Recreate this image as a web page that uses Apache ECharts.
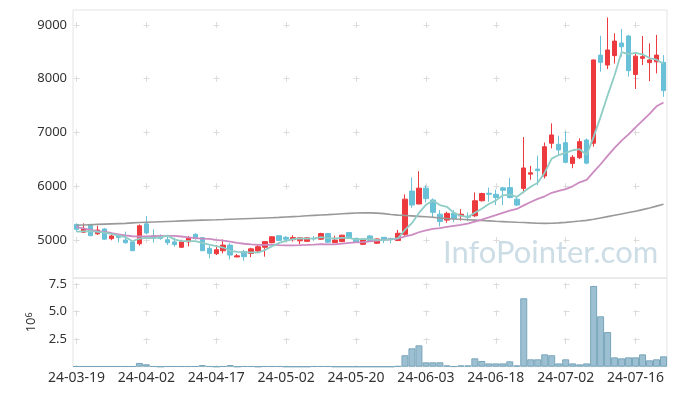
<!DOCTYPE html>
<html><head><meta charset="utf-8">
<script src="https://cdn.jsdelivr.net/npm/echarts@6/dist/echarts.min.js"></script>
<style>html,body{margin:0;padding:0;background:#fff}#c{width:677px;height:396px}</style>
</head><body><div id="c"></div>
<script>
const dates = ['24-03-19','24-03-20','24-03-21','24-03-22','24-03-25','24-03-26','24-03-27','24-03-28','24-03-29','24-04-01',
'24-04-02','24-04-03','24-04-04','24-04-05','24-04-08','24-04-09','24-04-11','24-04-12','24-04-15','24-04-16',
'24-04-17','24-04-18','24-04-19','24-04-22','24-04-23','24-04-24','24-04-25','24-04-26','24-04-29','24-04-30',
'24-05-02','24-05-03','24-05-07','24-05-08','24-05-09','24-05-10','24-05-13','24-05-14','24-05-16','24-05-17',
'24-05-20','24-05-21','24-05-22','24-05-23','24-05-24','24-05-27','24-05-28','24-05-29','24-05-30','24-05-31',
'24-06-03','24-06-04','24-06-05','24-06-07','24-06-10','24-06-11','24-06-12','24-06-13','24-06-14','24-06-17',
'24-06-18','24-06-19','24-06-20','24-06-21','24-06-24','24-06-25','24-06-26','24-06-27','24-06-28','24-07-01',
'24-07-02','24-07-03','24-07-04','24-07-05','24-07-08','24-07-09','24-07-10','24-07-11','24-07-12','24-07-15',
'24-07-16','24-07-17','24-07-18','24-07-19','24-07-22'];
const opens = [5290,5145,5290,5115,5205,5025,5075,5000,4965,4930,
5300,5080,5075,5005,4965,4865,4965,5105,5045,4845,
4745,4800,4905,4685,4785,4750,4795,4865,4950,5080,
5050,5005,4985,4975,5030,5015,5120,4950,4970,5140,
5030,4920,5075,4940,5050,5030,4990,5105,5910,5670,
5965,5745,5480,5370,5500,5450,5440,5450,5730,5870,
5850,5970,5975,5760,5960,6225,6320,6190,6800,6780,
6810,6425,6530,6860,6800,8440,8255,8430,8665,8795,
8080,8380,8300,8315,8305];
const closes = [5200,5205,5080,5185,5015,5075,5045,4950,4800,5265,
5130,5030,5030,4950,4915,4965,5035,5025,4800,4750,
4820,4905,4720,4705,4690,4835,4875,4970,5060,4990,
5015,5045,5040,5040,5020,5120,4960,5000,5090,5030,
4960,5015,4990,5020,5010,5020,5125,5760,5650,5965,
5770,5515,5345,5495,5400,5480,5425,5730,5865,5850,
5790,5925,5790,5650,6340,6250,6290,6735,6955,6675,
6445,6540,6830,6430,8350,8305,8535,8700,8595,8150,
8420,8410,8350,8440,7780];
const lows = [5155,5130,5075,5095,5010,4995,4955,4930,4800,4895,
5105,4950,5005,4905,4875,4855,4880,5010,4795,4660,
4720,4750,4640,4680,4615,4680,4785,4690,4940,4985,
4960,4970,4920,4970,4985,5005,4940,4940,4965,5025,
4950,4905,4975,4930,4940,4940,4985,5060,5600,5665,
5700,5420,5250,5320,5330,5360,5350,5430,5715,5710,
5650,5650,5775,5630,5870,6120,6020,6145,6705,6580,
6425,6335,6505,6410,6735,8130,8180,8285,8410,8040,
7810,8255,7955,8100,7665];
const highs = [5310,5310,5300,5265,5220,5105,5115,5155,4980,5290,
5445,5200,5105,5075,5045,5005,5075,5125,5055,4895,
4905,5010,4940,4740,4815,4855,4905,4975,5070,5085,
5075,5090,5050,5045,5075,5135,5130,5080,5095,5145,
5035,5020,5090,5030,5055,5040,5185,5850,6165,6280,
6020,5775,5555,5525,5555,5575,5515,5885,5880,5975,
5935,5990,6155,5805,6915,6380,6570,6815,7170,6940,
7025,6580,6890,6890,8355,8800,9140,8845,8925,8815,
8470,8795,8660,8815,8440];
const ma5 = [5155,5160,5165,5150,5137,5112,5080,5054,4977,5027,
5038,5035,5051,5081,5011,4978,4979,4978,4948,4915,
4886,4860,4799,4780,4768,4771,4765,4815,4886,4946,
4982,5016,5030,5026,5032,5053,5036,5028,5038,5040,
5008,5019,5017,5003,4999,5011,5033,5187,5313,5504,
5654,5732,5649,5618,5505,5447,5429,5506,5580,5670,
5732,5832,5844,5801,5899,5991,6064,6253,6514,6581,
6620,6670,6689,6584,6919,7291,7690,8064,8497,8457,
8480,8455,8385,8354,8280];
const ma20 = [5240,5215,5190,5165,5150,5130,5105,5085,5070,5065,
5065,5070,5075,5078,5075,5065,5050,5035,5025,5020,
5004,4989,4971,4947,4930,4918,4910,4911,4915,4905,
4900,4900,4903,4908,4915,4923,4919,4918,4933,4947,
4954,4959,4973,4988,5004,5014,5026,5066,5095,5144,
5181,5205,5220,5243,5262,5280,5303,5340,5378,5419,
5461,5506,5546,5578,5644,5706,5764,5813,5878,5914,
5948,5999,6073,6120,6267,6409,6564,6713,6849,6964,
7096,7220,7348,7487,7559];
const maLong = [5275,5280,5285,5290,5295,5300,5305,5310,5318,5325,
5330,5335,5340,5345,5350,5355,5360,5365,5370,5373,
5376,5380,5385,5390,5395,5400,5405,5410,5415,5420,
5428,5435,5442,5450,5458,5465,5472,5480,5488,5495,
5502,5505,5505,5500,5490,5475,5462,5455,5448,5440,
5432,5422,5410,5400,5392,5385,5378,5370,5362,5355,
5348,5342,5336,5330,5325,5318,5312,5310,5312,5318,
5328,5340,5352,5365,5385,5410,5435,5460,5485,5510,
5535,5565,5595,5630,5665];
const volumes = [0.04,0.04,0.04,0.04,0.04,0.04,0.04,0.04,0.04,0.34,
0.22,0.04,0,0.04,0.04,0.04,0.04,0.04,0.15,0.04,
0,0.04,0.15,0,0.04,0.04,0,0.04,0.04,0.04,
0,0,0,0,0.04,0.04,0.04,0,0,0,
0,0,0,0,0,0,0.06,1.04,1.67,1.94,
0.40,0.40,0.40,0.12,0.03,0.12,0.12,0.76,0.52,0.30,
0.30,0.30,0.49,0.12,6.22,0.67,0.67,1.12,1.04,0.30,
0.67,0.30,0.21,0.30,7.34,4.58,3.15,0.85,0.76,0.85,
0.85,1.12,0.58,0.67,0.94];
const priceTicks = [5000,6000,7000,8000,9000];
const volumeTicks = [2.5,5,7.5];

const candles = dates.map((d,i)=>[opens[i],closes[i],lows[i],highs[i]]);
const FONT = 'Noto Sans';
const gridLine = '#dcdcdc';
const chart = echarts.init(document.getElementById('c'), null, {renderer:'canvas'});
chart.setOption({
  animation:false,
  backgroundColor:'#fff',
  grid:[
    {left:73, top:10, width:594, height:268, show:true, borderColor:'#e4e4e4', borderWidth:1},
    {left:73, top:278, width:594, height:88.7, show:true, borderColor:'#e4e4e4', borderWidth:1}
  ],
  graphic:[{
    type:'text', left:443, top:237, z:0, silent:true,
    style:{text:'InfoPointer.com', fill:'#cddde6', font:'31px Lato'}
  }],
  xAxis:[
    {type:'category', gridIndex:0, data:dates, boundaryGap:true,
     axisLine:{show:false}, axisTick:{show:false, interval:9}, axisLabel:{show:false, interval:9},
     splitLine:{show:true, interval:9, alignWithLabel:true,
       lineStyle:{color:gridLine, width:1, type:[6,47.75], dashOffset:41.75}}},
    {type:'category', gridIndex:1, data:dates, boundaryGap:true,
     axisLine:{show:false}, axisTick:{show:false, interval:9},
     axisLabel:{interval:9, fontFamily:FONT, fontSize:14, color:'#333', margin:4},
     splitLine:{show:true, interval:9, alignWithLabel:true,
       lineStyle:{color:gridLine, width:1, type:[6,21.5], dashOffset:22.8}}}
  ],
  yAxis:[
    {type:'value', gridIndex:0, min:4293, max:9279, scale:true,
     axisLine:{show:false}, axisTick:{show:false, customValues:priceTicks},
     axisLabel:{customValues:priceTicks, fontFamily:FONT, fontSize:13, color:'#333', margin:6,
       formatter:v=>String(v)},
     splitLine:{show:true, lineStyle:{color:gridLine, width:1, type:[6,64], dashOffset:69.5}}},
    {type:'value', gridIndex:1, min:0, max:8.06,
     name:'{a|10}{b|6}', nameLocation:'middle', nameRotate:90, nameGap:33,
     nameTextStyle:{color:'#333', fontFamily:FONT, fontSize:13,
       rich:{a:{fontFamily:FONT, fontSize:13, color:'#333'}, b:{fontFamily:FONT, fontSize:9, color:'#333', verticalAlign:'top'}}},
     axisLine:{show:false}, axisTick:{show:false, customValues:volumeTicks},
     axisLabel:{customValues:volumeTicks, fontFamily:FONT, fontSize:13, color:'#333', margin:6,
       formatter:v=>v.toFixed(1)},
     splitLine:{show:true, lineStyle:{color:gridLine, width:1, type:[6,64], dashOffset:69.5}}}
  ],
  series:[
    {type:'candlestick', xAxisIndex:0, yAxisIndex:0, data:candles, barWidth:5,
     itemStyle:{color:'#ec3a3f', color0:'#69c1d8', borderColor:'#ec3a3f', borderColor0:'#69c1d8', borderWidth:1}},
    {type:'line', xAxisIndex:0, yAxisIndex:0, data:maLong, symbol:'none', smooth:false,
     lineStyle:{color:'#999999', width:1.6}},
    {type:'line', xAxisIndex:0, yAxisIndex:0, data:ma20, symbol:'none', smooth:false,
     lineStyle:{color:'#cc8bc1', width:1.8}},
    {type:'line', xAxisIndex:0, yAxisIndex:0, data:ma5, symbol:'none', smooth:false,
     lineStyle:{color:'#8fcdc6', width:1.8}},
    {type:'bar', xAxisIndex:1, yAxisIndex:1, data:volumes, barCategoryGap:'0%',
     itemStyle:{color:'#9cc0d1', borderColor:'#78a5ba', borderWidth:1}}
  ]
});
</script></body></html>
